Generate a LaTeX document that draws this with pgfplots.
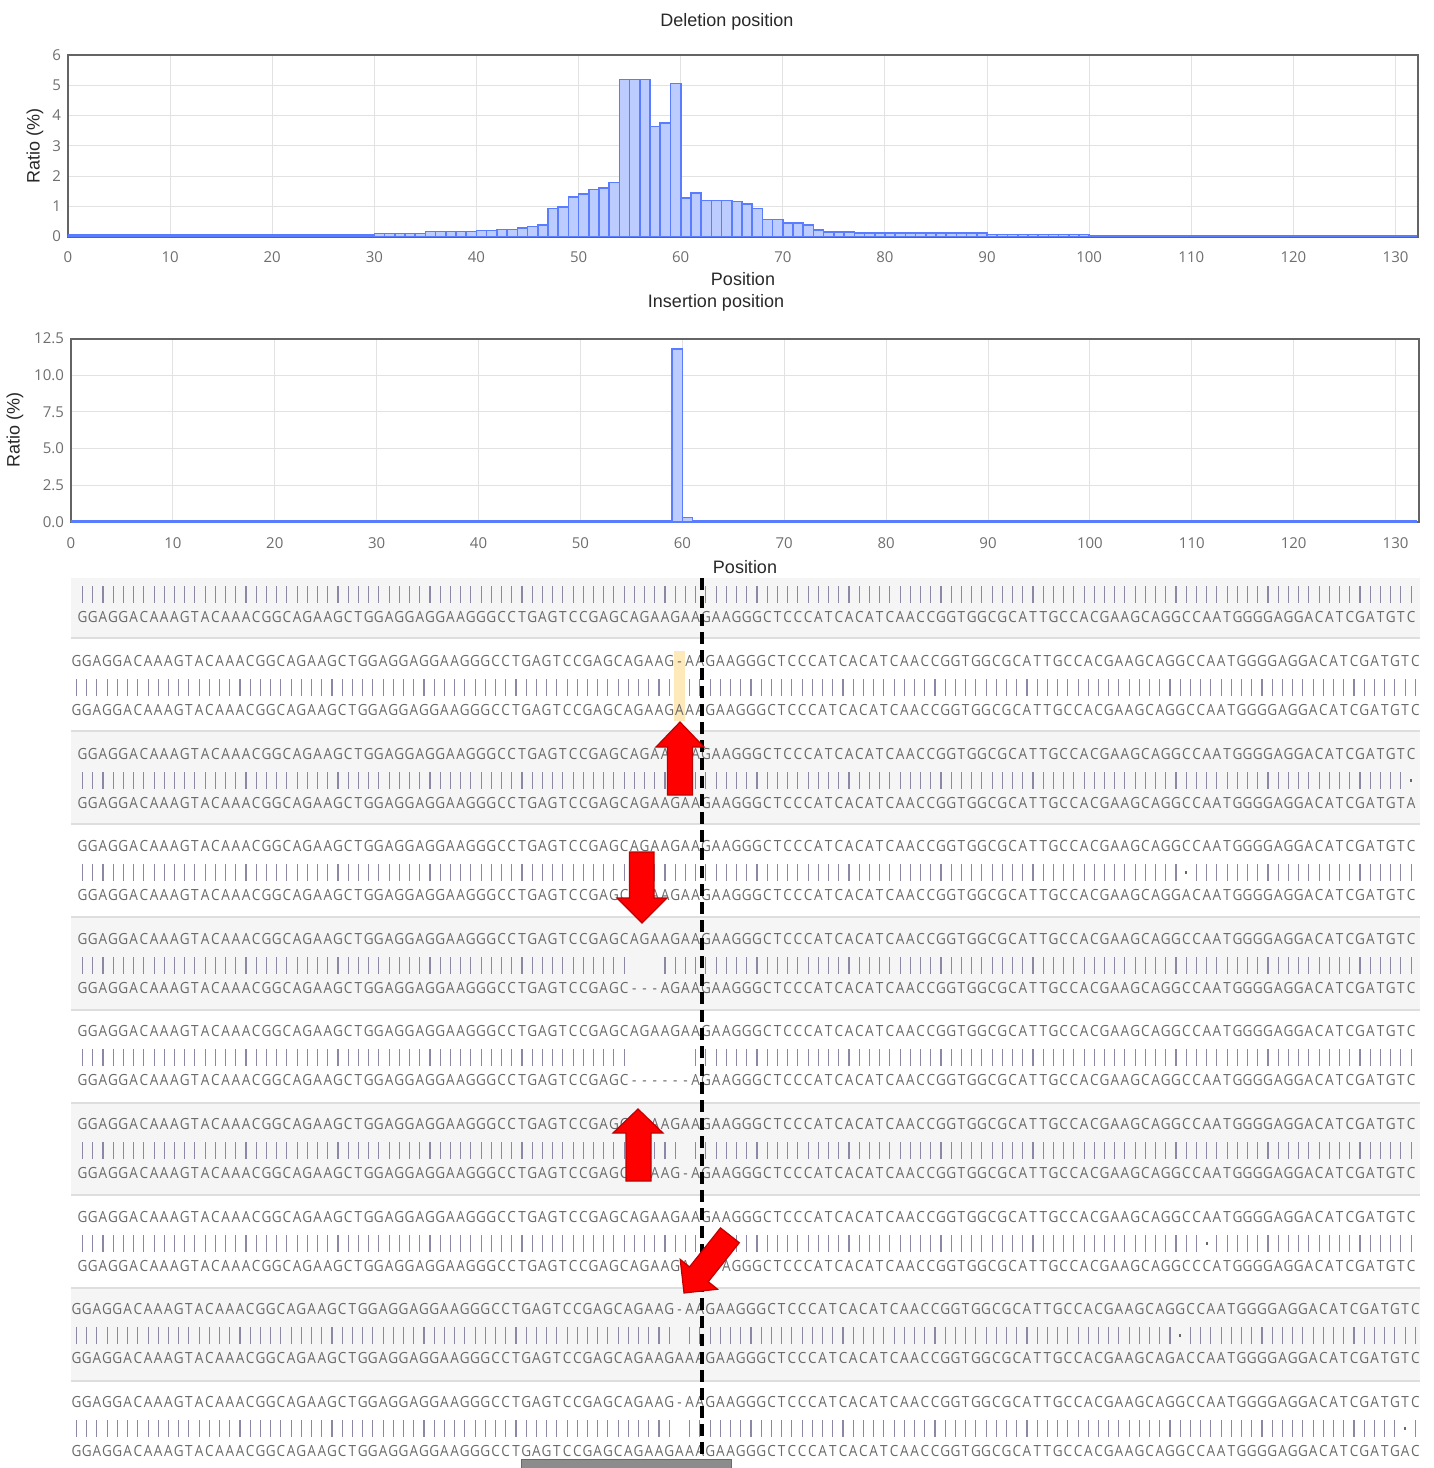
\documentclass[border=0pt]{standalone}
\usepackage{fontspec}
\setmainfont{Liberation Sans}
\newfontfamily\opensans{Open Sans}
\newfontfamily\seqfam[FakeStretch=0.88]{Open Sans}
\usepackage{pgfplots}
\pgfplotsset{compat=1.18}

\definecolor{barfill}{RGB}{188,204,255}
\definecolor{baredge}{RGB}{90,125,255}
\definecolor{gridgray}{RGB}{226,226,226}
\definecolor{framegray}{RGB}{100,100,100}
\definecolor{tickgray}{RGB}{110,110,110}
\definecolor{labcol}{RGB}{40,40,40}
\definecolor{seqgray}{RGB}{105,105,105}
\definecolor{barsgray}{RGB}{140,135,165}
\definecolor{rowbg}{RGB}{245,245,245}
\definecolor{sepgray}{RGB}{222,222,222}
\definecolor{hl}{RGB}{253,233,185}
\definecolor{arrowred}{RGB}{255,0,0}
\definecolor{arrowedge}{RGB}{190,0,0}
\definecolor{scroll}{RGB}{140,140,140}

\newcommand\tickfont{\opensans\fontsize{7.5}{9}\selectfont}
\newcommand\labfont{\fontsize{9}{11}\selectfont}
\newcommand\seqfont{\seqfam\fontsize{7.7}{9}\selectfont}

% ---- sequence typesetting: one fixed-width cell per base ----
\newdimen\cw \cw=5.11pt
\def\stopseq{\stopseq}
\def\seqaux#1{\ifx#1\stopseq\else\hbox to\cw{\hss#1\hss}\expandafter\seqaux\fi}
\def\seqtext#1{\edef\seqtmp{\noexpand\seqaux#1\noexpand\stopseq}\seqtmp}
\newcommand\barglyph{{\color{barsgray}\rule[-4.25pt]{0.55pt}{8.5pt}}}
\newcommand\dotglyph{{\color{seqgray}\rule[-0.6pt]{1.2pt}{1.2pt}}}
\def\mkbarsaux#1#2\relax#3#4\relax{%
  \ifx#1\stopseq \let\seqnext\relax
  \else
    \ifx#1-\hbox to\cw{}%
    \else\ifx#3-\hbox to\cw{}%
    \else\ifx#1#3\hbox to\cw{\hss\barglyph\hss}%
    \else\hbox to\cw{\hss\dotglyph\hss}%
    \fi\fi\fi
    \def\seqnext{\mkbarsaux#2\relax#4\relax}%
  \fi\seqnext}
\def\mkbars#1#2{\edef\seqtmp{\noexpand\mkbarsaux#1\noexpand\stopseq\relax#2\noexpand\stopseq\relax}\seqtmp}

\def\PA{GGAGGACAAAGTACAAACGGCAGAAGCTGGAGGAGGAAGGGCCTGAGTCC}
\def\MID{GAGCAGAAGAA}
\def\PB{GAAGGGCTCCCATCACATCAACCGGTGGCGCATTGCCACG}
\def\PC{AAGCAGGCCAATGGGGAGGACATC}
\def\REF{\PA\MID\PB\PC GATGTC}
\def\INSTOP{\PA GAGCAGAAG-AA\PB\PC GATGTC}

\tikzset{
  seqnode/.style={anchor=west, inner sep=0pt, text=seqgray, font=\seqfont},
  barnode/.style={anchor=west, inner sep=0pt},
  redarrow/.style={fill=arrowred, draw=arrowedge, line width=0.6pt, line join=miter}
}
\newcommand\alrow[4]{%
  \node[seqnode] at (#1,#2) {\seqtext{#3}};
  \node[barnode] at (#1,#2+26.5) {\mkbars{#3}{#4}};
  \node[seqnode] at (#1,#2+49) {\seqtext{#4}};}

\pgfplotsset{
  histo/.style={
    scale only axis, ymin=0,
    xtick={0,10,...,130},
    grid=major, major grid style={draw=gridgray, line width=0.5pt},
    axis line style={draw=framegray, line width=1pt},
    major tick length=0pt, tick style={draw=none},
    tick label style={font=\tickfont, text=tickgray},
    /pgf/number format/assume math mode=true,
    xticklabel style={yshift=-4.25pt},
    title style={anchor=base, font=\labfont, text=labcol},
    xlabel style={anchor=base, font=\labfont, text=labcol},
    ylabel style={anchor=center, font=\labfont, text=labcol},
  },
  histbar/.style={ybar interval, draw=baredge, fill=barfill, line width=0.8pt}
}

\begin{document}
\begin{tikzpicture}
\useasboundingbox (0,0) rectangle (717pt,-734pt);
\clip (0,0) rectangle (717pt,-734pt);

% ---------------- Deletion position ----------------
\begin{axis}[histo,
  at={(34pt,-118.25pt)}, anchor=south west,
  width=675pt, height=90.75pt,
  xmin=0, xmax=132.2, ymax=6, ytick={0,1,...,6},
  title={Deletion position}, title style={at={(0.488,1)}, yshift=8.5pt},
  xlabel={Position}, xlabel style={at={(0.5,0)}, yshift=-24.25pt},
  ylabel={Ratio (\%)}, ylabel style={at={(-0.0244,0.499)}},
]
\addplot[histbar] coordinates {
(0,0.04) (1,0.04) (2,0.04) (3,0.04) (4,0.04) (5,0.04) (6,0.04) (7,0.04) (8,0.04) (9,0.04)
(10,0.04) (11,0.04) (12,0.04) (13,0.04) (14,0.04) (15,0.04) (16,0.04) (17,0.04) (18,0.04) (19,0.04)
(20,0.04) (21,0.04) (22,0.04) (23,0.04) (24,0.04) (25,0.04) (26,0.04) (27,0.04) (28,0.04) (29,0.04)
(30,0.10) (31,0.10) (32,0.10) (33,0.10) (34,0.10) (35,0.17) (36,0.17) (37,0.17) (38,0.17) (39,0.17)
(40,0.20) (41,0.20) (42,0.23) (43,0.23) (44,0.28) (45,0.33) (46,0.39) (47,0.92) (48,0.97) (49,1.30)
(50,1.41) (51,1.55) (52,1.61) (53,1.78) (54,5.19) (55,5.19) (56,5.19) (57,3.64) (58,3.75) (59,5.06)
(60,1.28) (61,1.43) (62,1.19) (63,1.19) (64,1.19) (65,1.16) (66,1.08) (67,0.92) (68,0.56) (69,0.56)
(70,0.45) (71,0.45) (72,0.39) (73,0.22) (74,0.14) (75,0.14) (76,0.14) (77,0.11) (78,0.11) (79,0.11)
(80,0.11) (81,0.11) (82,0.11) (83,0.11) (84,0.11) (85,0.11) (86,0.11) (87,0.11) (88,0.11) (89,0.11)
(90,0.06) (91,0.06) (92,0.06) (93,0.06) (94,0.06) (95,0.06) (96,0.06) (97,0.06) (98,0.06) (99,0.06)
(100,0.03) (101,0.03) (102,0.03) (103,0.03) (104,0.03) (105,0.03) (106,0.03) (107,0.03) (108,0.03) (109,0.03)
(110,0.03) (111,0.03) (112,0.03) (113,0.03) (114,0.03) (115,0.03) (116,0.03) (117,0.03) (118,0.03) (119,0.03)
(120,0.03) (121,0.03) (122,0.03) (123,0.03) (124,0.03) (125,0.03) (126,0.03) (127,0.03) (128,0.03) (129,0.03)
(130,0.03) (131,0.03) (132,0)
};
\end{axis}

% ---------------- Insertion position ----------------
\begin{axis}[histo,
  at={(35.5pt,-261pt)}, anchor=south west,
  width=674pt, height=91.75pt,
  xmin=0, xmax=132.3, ymax=12.5, ytick={0,2.5,...,12.5},
  yticklabel style={/pgf/number format/.cd, fixed, fixed zerofill, precision=1},
  title={Insertion position}, title style={at={(0.4785,1)}, yshift=9.75pt},
  xlabel={Position}, xlabel style={at={(0.5,0)}, yshift=-25.5pt},
  ylabel={Ratio (\%)}, ylabel style={at={(-0.0415,0.501)}},
]
\addplot[histbar] coordinates {
(0,0.1) (1,0.1) (2,0.1) (3,0.1) (4,0.1) (5,0.1) (6,0.1) (7,0.1) (8,0.1) (9,0.1)
(10,0.1) (11,0.1) (12,0.1) (13,0.1) (14,0.1) (15,0.1) (16,0.1) (17,0.1) (18,0.1) (19,0.1)
(20,0.1) (21,0.1) (22,0.1) (23,0.1) (24,0.1) (25,0.1) (26,0.1) (27,0.1) (28,0.1) (29,0.1)
(30,0.1) (31,0.1) (32,0.1) (33,0.1) (34,0.1) (35,0.1) (36,0.1) (37,0.1) (38,0.1) (39,0.1)
(40,0.1) (41,0.1) (42,0.1) (43,0.1) (44,0.1) (45,0.1) (46,0.1) (47,0.1) (48,0.1) (49,0.1)
(50,0.1) (51,0.1) (52,0.1) (53,0.1) (54,0.1) (55,0.1) (56,0.1) (57,0.1) (58,0.1) (59,11.8)
(60,0.3) (61,0.1) (62,0.1) (63,0.1) (64,0.1) (65,0.1) (66,0.1) (67,0.1) (68,0.1) (69,0.1)
(70,0.1) (71,0.1) (72,0.1) (73,0.1) (74,0.1) (75,0.1) (76,0.1) (77,0.1) (78,0.1) (79,0.1)
(80,0.1) (81,0.1) (82,0.1) (83,0.1) (84,0.1) (85,0.1) (86,0.1) (87,0.1) (88,0.1) (89,0.1)
(90,0.1) (91,0.1) (92,0.1) (93,0.1) (94,0.1) (95,0.1) (96,0.1) (97,0.1) (98,0.1) (99,0.1)
(100,0.1) (101,0.1) (102,0.1) (103,0.1) (104,0.1) (105,0.1) (106,0.1) (107,0.1) (108,0.1) (109,0.1)
(110,0.1) (111,0.1) (112,0.1) (113,0.1) (114,0.1) (115,0.1) (116,0.1) (117,0.1) (118,0.1) (119,0.1)
(120,0.1) (121,0.1) (122,0.1) (123,0.1) (124,0.1) (125,0.1) (126,0.1) (127,0.1) (128,0.1) (129,0.1)
(130,0.1) (131,0.1) (132,0)
};
\end{axis}

% ---------------- alignment panel (pixel coordinates) ----------------
\begin{scope}[x=0.5pt, y=-0.5pt]
  \fill[rowbg] (71,578) rectangle (1420,638);
  \fill[rowbg] (71,731) rectangle (1420,824);
  \fill[rowbg] (71,917) rectangle (1420,1010);
  \fill[rowbg] (71,1103) rectangle (1420,1195);
  \fill[rowbg] (71,1288) rectangle (1420,1381);
  \foreach \yy in {638,731,824,917,1010,1103,1195,1288,1381}
    \draw[sepgray, line width=1pt] (71,\yy) -- (1420,\yy);
  \fill[hl] (674,651) rectangle (684.5,721);

  \node[barnode] at (77,594) {\mkbars{\REF}{\REF}};
  \node[seqnode] at (77,617) {\seqtext{\REF}};
  \alrow{71}{661}{\INSTOP}{\PA GAGCAGAAGAAA\PB\PC GATGTC}
  \alrow{77}{754}{\REF}{\PA\MID\PB\PC GATGTA}
  \alrow{77}{846}{\REF}{\PA\MID\PB AAGCAGGACAATGGGGAGGACATCGATGTC}
  \alrow{77}{939}{\REF}{\PA GAGC---AGAA\PB\PC GATGTC}
  \alrow{77}{1031}{\REF}{\PA GAGC------A\PB\PC GATGTC}
  \alrow{77}{1124}{\REF}{\PA GAGCAGAAG-A\PB\PC GATGTC}
  \alrow{77}{1217}{\REF}{\PA\MID --AGGGCTCCCATCACATCAACCGGTGGCGCATTGCCACGAAGCAGGCCCATGGGGAGGACATCGATGTC}
  \alrow{71}{1309}{\INSTOP}{\PA GAGCAGAAGAAA\PB AAGCAGACCAATGGGGAGGACATCGATGTC}
  \alrow{71}{1402}{\INSTOP}{\PA GAGCAGAAGAAA\PB\PC GATGAC}

  \draw[black, line width=1.75pt, dash pattern=on 6pt off 3pt] (702,578) -- (702,1468);

  \path[redarrow] (680,722) -- (704,747) -- (692.5,747) -- (692.5,795) -- (667.5,795) -- (667.5,747) -- (656,747) -- cycle;
  \path[redarrow] (642,923) -- (667,898) -- (654,898) -- (654,852) -- (629.5,852) -- (629.5,898) -- (617,898) -- cycle;
  \path[redarrow] (638,1109) -- (663,1133) -- (651,1133) -- (651,1181) -- (626,1181) -- (626,1133) -- (613,1133) -- cycle;
  \path[redarrow] (684,1293) -- (717.6,1289.2) -- (708.3,1281.7) -- (739.3,1242.7) -- (720.5,1227.9) -- (689.5,1266.9) -- (680.2,1259.4) -- cycle;

  \filldraw[fill=scroll, draw=scroll!75!black, line width=0.5pt] (521,1459) rectangle (731,1472);
\end{scope}
\end{tikzpicture}
\end{document}
